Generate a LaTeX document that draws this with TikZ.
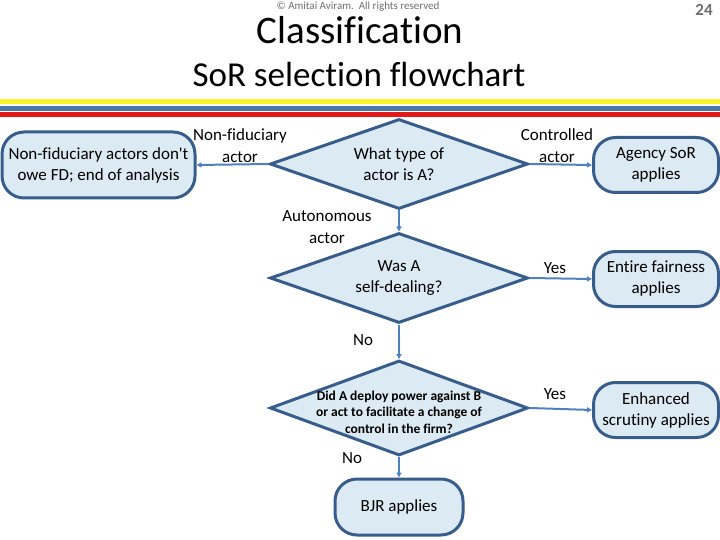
\documentclass[tikz,border=0pt]{standalone}
\usepackage{fontspec}
\setmainfont{Carlito}[Ligatures=NoCommon]
\usetikzlibrary{shapes.geometric,arrows.meta,positioning}
\definecolor{boxfill}{RGB}{220,234,243}
\definecolor{boxline}{RGB}{56,93,138}
\definecolor{flowline}{RGB}{79,129,189}
\definecolor{stripeyellow}{RGB}{250,245,40}
\definecolor{stripeblue}{RGB}{76,120,172}
\definecolor{stripered}{RGB}{225,25,25}
\definecolor{headgray}{RGB}{110,110,110}

\begin{document}
\begin{tikzpicture}[x=1pt, y=-1pt,
  decision/.style={diamond, shape aspect=2.87, draw=boxline, line width=3pt, fill=boxfill, inner sep=0pt,
    minimum width=258, minimum height=90, align=center, font=\fontsize{17}{21}\selectfont},
  outcome/.style={rectangle, rounded corners=22pt, draw=boxline, line width=3pt, fill=boxfill,
    minimum width=125, minimum height=55, inner sep=2pt, align=center, font=\fontsize{17}{21}\selectfont},
  flow/.style={flowline, line width=2pt, -{Triangle[length=5pt, width=5pt]}},
  branch/.style={align=center, font=\fontsize{17}{22}\selectfont}]
  \useasboundingbox (0,0) rectangle (720,540);

  % Header
  \node[anchor=base, text=headgray, font=\fontsize{11}{13}\selectfont] (copy) at (358,10)
    {\textcopyright{} Amitai Aviram.\ \ All rights reserved};
  \node[anchor=base, text=headgray, font=\fontsize{17}{20}\selectfont\bfseries] (page) at (704,16) {24};
  \node[anchor=base, font=\fontsize{39}{44}\selectfont] (title) at (360,44) {Classification};
  \node[anchor=base, font=\fontsize{35}{40}\selectfont] (subtitle) at (359,87) {SoR selection flowchart};

  % Stripes
  \foreach \ya/\yb/\col in {99/104/stripeyellow, 106/111/stripeblue, 112/117/stripered}{
    \fill[\col] (0,\ya) rectangle (720,\yb);
  }

  % Questions
  \node[decision] (qtype) at (399,164) {What type of\\actor is A?};
  \node[decision] (qself) at (399,278) {Was A\\self-dealing?};
  \node[decision, minimum height=95,
    label={[align=center, yshift=-4pt, font=\fontsize{13.5}{16.5}\selectfont\bfseries]center:Did A deploy power against B\\or act to facilitate a change of\\control in the firm?}]
    (qpower) at (399,408) {};

  % Outcomes
  \node[outcome, minimum width=193, minimum height=66] (nofd) at (98.5,165)
    {Non-fiduciary actors don\textquotesingle t\\owe FD; end of analysis};
  \node[outcome] (agency) at (656,165) {Agency SoR\\applies};
  \node[outcome] (fair) at (656,279) {Entire fairness\\applies};
  \node[outcome] (scrut) at (656,410) {Enhanced\\scrutiny applies};
  \node[outcome, minimum width=128, minimum height=56] (bjr) at (399,507) {BJR applies};

  % Connectors
  \draw[flow] (qtype.west) -- (nofd.east);
  \draw[flow] (qtype.east) -- (agency.west);
  \draw[flow] (qtype.south) -- (qself.north);
  \draw[flow] (qself.east) -- (fair.west);
  \draw[flow] (qself.south) -- (qpower.north);
  \draw[flow] (qpower.east) -- (scrut.west);
  \draw[flow] (qpower.south) -- (bjr.north);

  % Branch labels
  \node[branch] (lnonfid) at (240,146) {Non-fiduciary\\actor};
  \node[branch] (lctrl) at (557,146) {Controlled\\actor};
  \node[branch] (lauto) at (327,227) {Autonomous\\actor};
  \node[branch] (lyes1) at (555,268) {Yes};
  \node[branch] (lno1) at (363,340) {No};
  \node[branch] (lyes2) at (555,394) {Yes};
  \node[branch] (lno2) at (352,458) {No};
\end{tikzpicture}
\end{document}
